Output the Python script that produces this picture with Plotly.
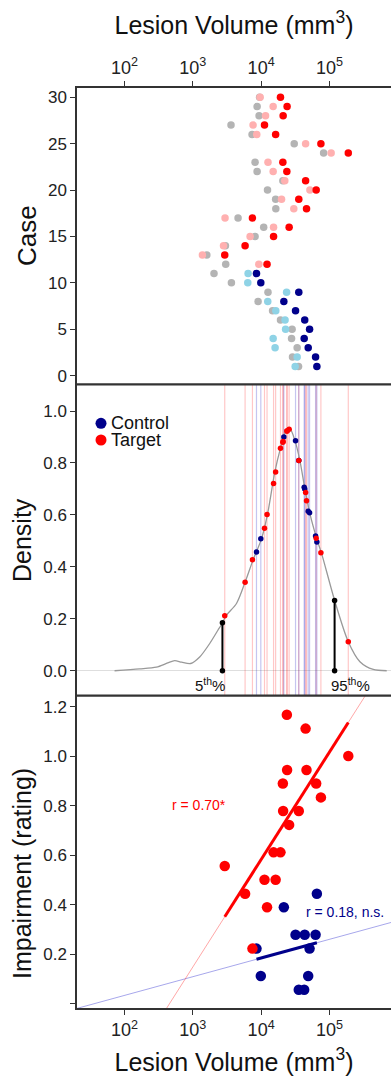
import plotly.graph_objects as go
import numpy as np

# ---------------- data ----------------
cases = list(range(1, 31))
group = ["Control"] * 11 + ["Target"] * 19

# lesion volume (mm^3) per case, three estimates
vol_gray = [35300, 28800, 33700, 27900, 28400, 19200, 14700, 9020, 12600, 3670, 2040,
            3030, 1600, 3000, 8150, 10900, 4590, 16400, 16300, 12400, 20800, 8730, 8150,
            82200, 30500, 7360, 3620, 9330, 8730, 9500]
vol_light = [31500, 33700, 16000, 15000, 22800, 22400, 16400, 12500, 23600, 6370, 6440,
             9250, 1380, 2810, 6890, 15200, 2960, 30100, 19900, 51800, 22200, 15000, 12600,
             106000, 44800, 8630, 7620, 11600, 15000, 9660]
vol_main = [65500, 62700, 48900, 42700, 51200, 43500, 31900, 21500, 35600, 9890, 8550,
            12200, 2930, 5820, 15200, 25700, 7460, 46200, 35600, 64000, 44800, 23800, 20800,
            189000, 75000, 16300, 11200, 21000, 24000, 19200]

# density of the reference distribution at each case's volume
dens_case = [0.496, 0.519, 0.614, 0.707, 0.608, 0.700, 0.886, 0.900, 0.810, 0.508, 0.457,
             0.602, 0.212, 0.341, 0.721, 0.930, 0.427, 0.655, 0.810, 0.510, 0.686, 0.923,
             0.880, 0.112, 0.454, 0.765, 0.549, 0.883, 0.923, 0.857]

# impairment rating per case
impairment = [0.444, 0.278, 0.111, 0.056, 0.222, 0.278, 0.278, 0.389, 0.056, 0.111, 0.222,
              0.389, 0.556, 0.444, 0.611, 0.722, 0.222, 0.944, 0.778, 0.889, 1.111, 1.167,
              0.889, 1.000, 0.833, 0.500, 0.500, 0.778, 0.944, 0.611]

# density curve of lesion volume (reference distribution)
curve_volume = [71.3, 166, 292, 428, 541, 685, 929, 1259, 1766, 2339, 2710, 3105, 4355,
                5821, 7621, 10120, 12390, 15850, 19230, 22230, 26300, 31190, 36900, 43650,
                51760, 66220, 76740, 119100, 188800, 279900, 438500, 690200]
curve_density = [0.000, 0.007, 0.014, 0.030, 0.039, 0.033, 0.028, 0.053, 0.105, 0.157,
                 0.185, 0.214, 0.259, 0.341, 0.427, 0.508, 0.602, 0.765, 0.858, 0.914,
                 0.932, 0.887, 0.810, 0.702, 0.605, 0.503, 0.452, 0.271, 0.112, 0.035,
                 0.005, 0.000]

pct_volume = [2710, 119100]          # 5th and 95th percentiles
pct_density = [0.185, 0.271]
pct_labels = ["5<sup>th</sup>%", "95<sup>th</sup>%"]

# regression of impairment on log10(volume): intercept, slope
fit_target = [-1.154, 0.434]
fit_control = [-0.118, 0.0755]
r_target_label = "r = 0.70*"
r_control_label = "r = 0.18, n.s."

x_ticks = [100, 1000, 10000, 100000]
x_ticktext = ["10<sup>2</sup>", "10<sup>3</sup>", "10<sup>4</sup>", "10<sup>5</sup>"]

# ---------------- styling ----------------
FONT = "Liberation Sans, Arial, sans-serif"
RED = "#ff0000"
PINK = "#ffb0b0"
NAVY = "#00008b"
LBLUE = "#8fd3e6"
GRAY = "#b4b4b4"
AX = "#333333"
XR = [1.303, 5.902]

W, H = 391, 1079
ML, MR, MT, MB = 77, 0, 88, 71
PH = H - MT - MB
PW = W - ML - MR


def py(p):
    return (H - MB - p) / PH


def pxx(p):
    return (p - ML) / PW


d_top = [py(384.3), 1.0]
d_mid = [py(695.7), py(384.3)]
d_bot = [0.0, py(695.7)]

is_c = [g == "Control" for g in group]
idx_c = [i for i in range(30) if is_c[i]]
idx_t = [i for i in range(30) if not is_c[i]]


def pick(arr, idx):
    return [arr[i] for i in idx]


fig = go.Figure()

# ---- top panel: cases ----
fig.add_trace(go.Scatter(x=vol_gray, y=cases, mode="markers", xaxis="x", yaxis="y",
                         marker=dict(color=GRAY, size=7.5), showlegend=False))
fig.add_trace(go.Scatter(x=vol_light, y=cases, mode="markers", xaxis="x", yaxis="y",
                         marker=dict(color=[LBLUE if c else PINK for c in is_c], size=7.5),
                         showlegend=False))
fig.add_trace(go.Scatter(x=vol_main, y=cases, mode="markers", xaxis="x", yaxis="y",
                         marker=dict(color=[NAVY if c else RED for c in is_c], size=7.5),
                         showlegend=False))

# ---- middle panel: density ----
ylo, yhi = -0.096, 1.103
for idx, col in [(idx_t, "rgba(255,0,0,0.22)"), (idx_c, "rgba(40,40,200,0.27)")]:
    xs, ys = [], []
    for i in idx:
        xs += [vol_main[i], vol_main[i], None]
        ys += [ylo, yhi, None]
    fig.add_trace(go.Scatter(x=xs, y=ys, mode="lines", xaxis="x2", yaxis="y2",
                             line=dict(color=col, width=1.2), showlegend=False,
                             hoverinfo="skip"))

fig.add_trace(go.Scatter(x=curve_volume, y=curve_density, mode="lines", xaxis="x2", yaxis="y2",
                         line=dict(color="#999999", width=1.3, shape="spline", smoothing=0.8),
                         showlegend=False))
for k in range(2):
    fig.add_trace(go.Scatter(x=[pct_volume[k], pct_volume[k]], y=[0, pct_density[k]],
                             mode="lines+markers", xaxis="x2", yaxis="y2",
                             line=dict(color="black", width=2),
                             marker=dict(color="black", size=5.5), showlegend=False))
fig.add_trace(go.Scatter(x=pick(vol_main, idx_c), y=pick(dens_case, idx_c), mode="markers",
                         xaxis="x2", yaxis="y2", marker=dict(color=NAVY, size=5.5),
                         showlegend=False))
fig.add_trace(go.Scatter(x=pick(vol_main, idx_t), y=pick(dens_case, idx_t), mode="markers",
                         xaxis="x2", yaxis="y2", marker=dict(color=RED, size=5.5),
                         showlegend=False))

# ---- bottom panel: impairment ----
full_x = [10 ** XR[0], 10 ** XR[1]]


def fit_line(fit, xs):
    return [fit[0] + fit[1] * np.log10(v) for v in xs]


fig.add_trace(go.Scatter(x=full_x, y=fit_line(fit_control, full_x), mode="lines",
                         xaxis="x3", yaxis="y3", line=dict(color="rgba(60,60,210,0.45)", width=1),
                         showlegend=False))
fig.add_trace(go.Scatter(x=full_x, y=fit_line(fit_target, full_x), mode="lines",
                         xaxis="x3", yaxis="y3", line=dict(color="rgba(255,60,60,0.45)", width=1),
                         showlegend=False))

ctrl_rng = [min(pick(vol_main, idx_c)), max(pick(vol_main, idx_c))]
targ_rng = [min(pick(vol_main, idx_t)), max(pick(vol_main, idx_t))]

fig.add_trace(go.Scatter(x=pick(vol_main, idx_c), y=pick(impairment, idx_c), mode="markers",
                         xaxis="x3", yaxis="y3", marker=dict(color=NAVY, size=10.5),
                         showlegend=False))
fig.add_trace(go.Scatter(x=pick(vol_main, idx_t), y=pick(impairment, idx_t), mode="markers",
                         xaxis="x3", yaxis="y3", marker=dict(color=RED, size=10.5),
                         showlegend=False))
fig.add_trace(go.Scatter(x=ctrl_rng, y=fit_line(fit_control, ctrl_rng), mode="lines",
                         xaxis="x3", yaxis="y3", line=dict(color=NAVY, width=3),
                         showlegend=False))
fig.add_trace(go.Scatter(x=targ_rng, y=fit_line(fit_target, targ_rng), mode="lines",
                         xaxis="x3", yaxis="y3", line=dict(color=RED, width=3),
                         showlegend=False))

# ---------------- layout ----------------
tickfont = dict(family=FONT, size=17, color="#222222")
xtickfont = dict(family=FONT, size=18, color="#222222")
titlefont = dict(family=FONT, size=25, color="#111111")

xcommon = dict(type="log", range=XR, showgrid=False, zeroline=False,
               tickvals=x_ticks, ticktext=x_ticktext, ticks="outside", ticklen=5,
               tickcolor=AX, tickwidth=1.3, linecolor=AX, linewidth=1.5, tickfont=xtickfont)

ycommon = dict(showgrid=False, ticks="outside", ticklen=5, tickcolor=AX, tickwidth=1.3,
               showline=True, linecolor=AX, linewidth=1.5, tickfont=tickfont)

annotations = [
    dict(text="Case", x=pxx(27), y=py(236), xref="paper", yref="paper", textangle=-90,
         showarrow=False, font=dict(family=FONT, size=26, color="#111111"),
         xanchor="center", yanchor="middle"),
    dict(text="Density", x=pxx(22), y=py(540), xref="paper", yref="paper", textangle=-90,
         showarrow=False, font=titlefont, xanchor="center", yanchor="middle"),
    dict(text="Impairment (rating)", x=pxx(22), y=py(874), xref="paper", yref="paper",
         textangle=-90, showarrow=False, font=titlefont, xanchor="center", yanchor="middle"),
    dict(text="Control", x=pxx(109), y=py(423.3), xref="paper", yref="paper",
         showarrow=False, font=dict(family=FONT, size=18, color="#111111"),
         xanchor="left", yanchor="middle"),
    dict(text="Target", x=pxx(109), y=py(440), xref="paper", yref="paper",
         showarrow=False, font=dict(family=FONT, size=18, color="#111111"),
         xanchor="left", yanchor="middle"),
    dict(text=pct_labels[0], x=np.log10(pct_volume[0]), y=0, xref="x2", yref="y2",
         showarrow=False, font=dict(family=FONT, size=15, color="#111111"),
         xanchor="right", yanchor="top", xshift=5, yshift=-2),
    dict(text=pct_labels[1], x=np.log10(pct_volume[1]), y=0, xref="x2", yref="y2",
         showarrow=False, font=dict(family=FONT, size=15, color="#111111"),
         xanchor="left", yanchor="top", xshift=-6, yshift=-2),
    dict(text=r_target_label, x=3.086, y=0.804, xref="x3", yref="y3", showarrow=False,
         font=dict(family=FONT, size=14, color=RED), xanchor="center", yanchor="middle"),
    dict(text=r_control_label, x=4.630, y=0.369, xref="x3", yref="y3", showarrow=False,
         font=dict(family=FONT, size=14, color=NAVY), xanchor="left", yanchor="middle"),
]

shapes = [
    dict(type="line", xref="paper", yref="paper", x0=0, x1=1, y0=d_top[0], y1=d_top[0],
         line=dict(color=AX, width=2.2)),
    dict(type="line", xref="paper", yref="paper", x0=0, x1=1, y0=d_mid[0], y1=d_mid[0],
         line=dict(color=AX, width=2.2)),
    dict(type="circle", xref="paper", yref="paper", xsizemode="pixel", ysizemode="pixel",
         xanchor=pxx(101), yanchor=py(423.3), x0=-5.5, x1=5.5, y0=-5.5, y1=5.5,
         fillcolor=NAVY, line=dict(width=0)),
    dict(type="circle", xref="paper", yref="paper", xsizemode="pixel", ysizemode="pixel",
         xanchor=pxx(101), yanchor=py(440), x0=-5.5, x1=5.5, y0=-5.5, y1=5.5,
         fillcolor=RED, line=dict(width=0)),
]

fig.update_layout(
    width=W, height=H,
    margin=dict(l=ML, r=MR, t=MT, b=MB),
    paper_bgcolor="white", plot_bgcolor="white",
    font=dict(family=FONT),
    showlegend=False,
    xaxis=dict(xcommon, anchor="y", side="top", showline=True,
               title=dict(text="Lesion Volume (mm<sup>3</sup>)", font=titlefont, standoff=14)),
    xaxis2=dict(type="log", range=XR, anchor="y2", showgrid=False, zeroline=False,
                showticklabels=False, ticks="", showline=False),
    xaxis3=dict(xcommon, anchor="y3", side="bottom", showline=True,
                title=dict(text="Lesion Volume (mm<sup>3</sup>)", font=titlefont, standoff=14)),
    yaxis=dict(ycommon, domain=d_top, anchor="x", range=[-0.93, 31.0],
               tickvals=[0, 5, 10, 15, 20, 25, 30], zeroline=False),
    yaxis2=dict(ycommon, domain=d_mid, anchor="x2", range=[ylo, yhi],
                tickvals=[0, 0.2, 0.4, 0.6, 0.8, 1.0],
                ticktext=["0.0", "0.2", "0.4", "0.6", "0.8", "1.0"],
                zeroline=True, zerolinecolor="rgba(0,0,0,0.13)", zerolinewidth=1),
    yaxis3=dict(ycommon, domain=d_bot, anchor="x3", range=[-0.018, 1.244],
                tickvals=[0, 0.2, 0.4, 0.6, 0.8, 1.0, 1.2],
                ticktext=["", "0.2", "0.4", "0.6", "0.8", "1.0", "1.2"], zeroline=False),
    annotations=annotations,
    shapes=shapes,
)

fig.write_html(
    "out.html",
    config={"displayModeBar": False},
    post_script="document.body.style.margin='0';document.body.style.padding='0';"
                "document.body.style.overflow='hidden';",
)
